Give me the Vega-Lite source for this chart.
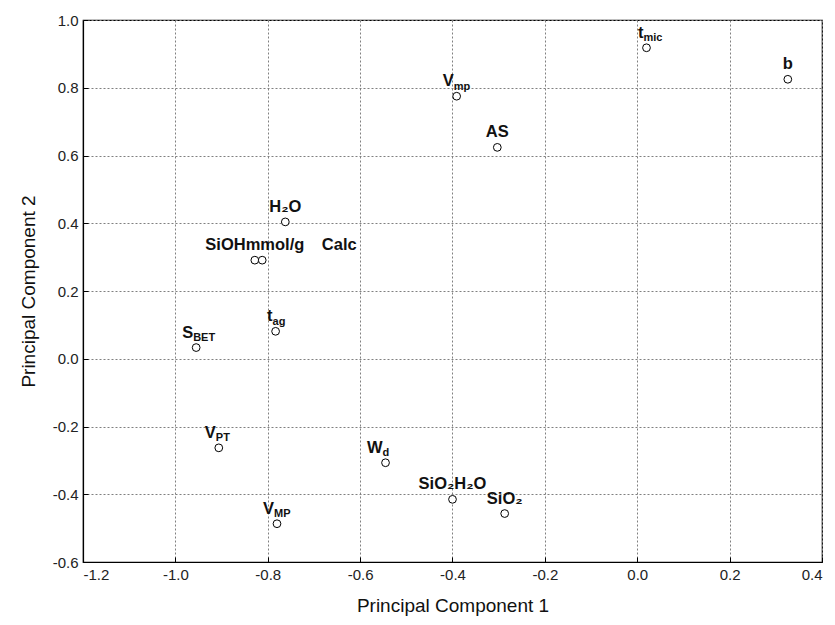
{
  "$schema": "https://vega.github.io/schema/vega-lite/v6.json",
  "width": 739,
  "height": 542,
  "autosize": {"type": "none"},
  "padding": {"left": 83, "top": 20, "right": 13, "bottom": 63},
  "background": "white",
  "config": {
    "font": "Liberation Sans",
    "view": {"stroke": "black", "strokeWidth": 1.2},
    "axis": {
      "domainColor": "black",
      "domainWidth": 1.2,
      "tickColor": "black",
      "tickSize": -5,
      "gridColor": "#808080",
      "gridDash": [2, 2],
      "gridWidth": 1,
      "labelFont": "Liberation Sans",
      "labelFontSize": 15,
      "labelColor": "#222222",
      "labelExpr": "replace(datum.label, '−', '-')",
      "titleFont": "Liberation Sans",
      "titleFontSize": 19,
      "titleFontWeight": "normal",
      "titleColor": "#111111"
    }
  },
  "data": {
    "values": [
      {"main": "t", "sub": "mic", "pc1": 0.020, "pc2": 0.918},
      {"main": "b", "sub": "", "pc1": 0.326, "pc2": 0.825},
      {"main": "V", "sub": "mp", "pc1": -0.391, "pc2": 0.775},
      {"main": "AS", "sub": "", "pc1": -0.303, "pc2": 0.624},
      {"main": "H₂O", "sub": "", "pc1": -0.762, "pc2": 0.404},
      {"main": "SiOHmmol/g", "sub": "", "pc1": -0.828, "pc2": 0.291},
      {"main": "Calc", "sub": "", "pc1": -0.812, "pc2": 0.291},
      {"main": "t", "sub": "ag", "pc1": -0.783, "pc2": 0.081},
      {"main": "S", "sub": "BET", "pc1": -0.955, "pc2": 0.033},
      {"main": "V", "sub": "PT", "pc1": -0.906, "pc2": -0.263},
      {"main": "W", "sub": "d", "pc1": -0.545, "pc2": -0.307},
      {"main": "SiO₂H₂O", "sub": "", "pc1": -0.400, "pc2": -0.415},
      {"main": "SiO₂", "sub": "", "pc1": -0.287, "pc2": -0.457},
      {"main": "V", "sub": "MP", "pc1": -0.780, "pc2": -0.487}
    ]
  },
  "encoding": {
    "x": {
      "field": "pc1", "type": "quantitative",
      "scale": {"domain": [-1.2, 0.4], "nice": false, "zero": false},
      "axis": {"title": "Principal Component 1", "values": [-1.2, -1.0, -0.8, -0.6, -0.4, -0.2, 0.0, 0.2, 0.4], "format": ".1f", "labelPadding": 10, "titlePadding": 14}
    },
    "y": {
      "field": "pc2", "type": "quantitative",
      "scale": {"domain": [-0.6, 1.0], "nice": false, "zero": false},
      "axis": {"title": "Principal Component 2", "values": [-0.6, -0.4, -0.2, 0.0, 0.2, 0.4, 0.6, 0.8, 1.0], "format": ".1f", "labelPadding": 10, "titlePadding": 14}
    }
  },
  "layer": [
    {
      "mark": {"type": "point", "shape": "circle", "filled": false, "stroke": "black", "strokeWidth": 1, "size": 60, "fill": "white", "fillOpacity": 1}
    },
    {
      "transform": [{"filter": "datum.sub == '' && datum.main != 'Calc'"}],
      "mark": {"type": "text", "align": "center", "baseline": "alphabetic", "dy": -10, "fontSize": 16.5, "fontWeight": "bold", "color": "#111111"},
      "encoding": {"text": {"field": "main"}}
    },
    {
      "transform": [{"filter": "datum.main == 'Calc'"}],
      "mark": {"type": "text", "align": "center", "baseline": "alphabetic", "dy": -10, "dx": 77, "fontSize": 16.5, "fontWeight": "bold", "color": "#111111"},
      "encoding": {"text": {"field": "main"}}
    },
    {
      "transform": [{"filter": "datum.sub != ''"}],
      "mark": {"type": "text", "align": "right", "baseline": "alphabetic", "dy": -10, "dx": -3, "fontSize": 16.5, "fontWeight": "bold", "color": "#111111"},
      "encoding": {"text": {"field": "main"}}
    },
    {
      "transform": [{"filter": "datum.sub != ''"}],
      "mark": {"type": "text", "align": "left", "baseline": "alphabetic", "dy": -6.5, "dx": -3, "fontSize": 11, "fontWeight": "bold", "color": "#111111"},
      "encoding": {"text": {"field": "sub"}}
    }
  ]
}
